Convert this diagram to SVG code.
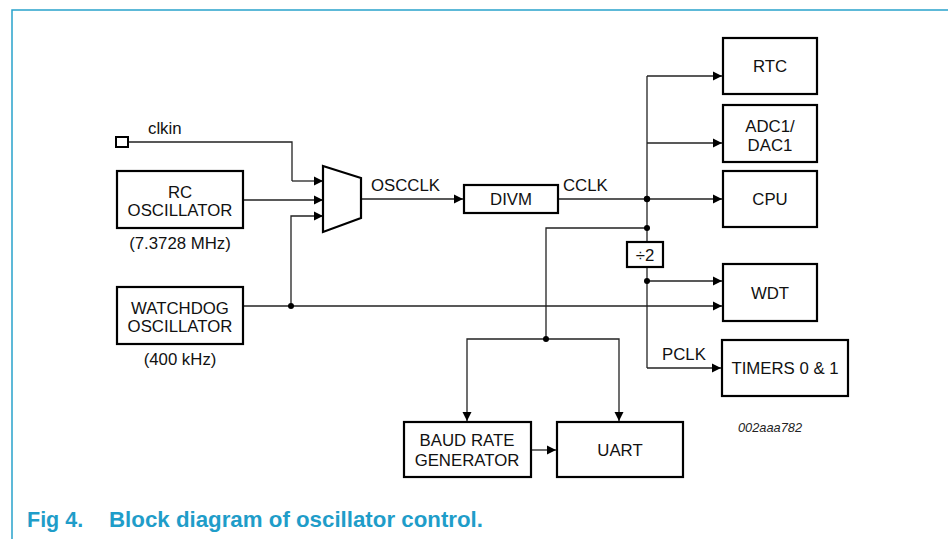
<svg xmlns="http://www.w3.org/2000/svg" width="948" height="539" viewBox="0 0 948 539">
<defs>
<marker id="ah" markerWidth="10" markerHeight="10" refX="9" refY="5" orient="auto" markerUnits="userSpaceOnUse">
<path d="M0,0.5 L9,5 L0,9.5 Z" fill="#000"/>
</marker>
<style>
.box{fill:#fff;stroke:#000;stroke-width:2.2}
.t{font-family:"Liberation Sans",Arial,sans-serif;font-size:16.8px;fill:#111;text-anchor:middle}
.l{font-family:"Liberation Sans",Arial,sans-serif;font-size:16.8px;fill:#111}
.w{fill:none;stroke:#222;stroke-width:1.3}
.a{fill:none;stroke:#222;stroke-width:1.3;marker-end:url(#ah)}
.dot{fill:#000}
.cap{font-family:"Liberation Sans",Arial,sans-serif;font-size:21.5px;font-weight:bold;fill:#1f9dc9}
</style>
</defs>
<rect width="948" height="539" fill="#fff"/>
<path d="M12,539 V10 H948" fill="none" stroke="#29a3cc" stroke-width="1.5"/>

<g id="connectors">
<path class="w" d="M128,142 H292 V181"/>
<path class="a" d="M292,181 H323"/>
<path class="a" d="M243,200 H323"/>
<path class="a" d="M291,306 V216 H323"/>
<path class="w" d="M243,306 H291"/>
<path class="a" d="M291,306 H722"/>
<path class="a" d="M361,199 H463"/>
<path class="a" d="M558,199 H722"/>
<path class="w" d="M647,76 V242"/>
<path class="a" d="M647,76 H722"/>
<path class="a" d="M647,143 H722"/>
<path class="w" d="M647,228 H546 V339"/>
<path class="w" d="M647,267 V368"/>
<path class="a" d="M647,281 H722"/>
<path class="a" d="M647,368 H721"/>
<path class="a" d="M546,339 H619 V421"/>
<path class="a" d="M546,339 H467 V421"/>
<path class="a" d="M531,450 H556"/>
<circle class="dot" cx="291" cy="306" r="3"/>
<circle class="dot" cx="647" cy="199" r="3.2"/>
<circle class="dot" cx="647" cy="228" r="3"/>
<circle class="dot" cx="647" cy="281" r="3"/>
<circle class="dot" cx="546" cy="339" r="3"/>
</g>

<g id="clkin">
<rect x="116" y="137" width="12" height="10" fill="#fff" stroke="#000" stroke-width="2"/>
<text class="l" x="148" y="134">clkin</text>
</g>

<g id="rc-osc">
<rect class="box" x="117" y="171" width="126" height="57"/>
<text class="t" x="180" y="198">RC</text>
<text class="t" x="180" y="216">OSCILLATOR</text>
<text class="t" x="180" y="249">(7.3728 MHz)</text>
</g>

<g id="wd-osc">
<rect class="box" x="117" y="287" width="126" height="57"/>
<text class="t" x="180" y="314">WATCHDOG</text>
<text class="t" x="180" y="332">OSCILLATOR</text>
<text class="t" x="180" y="365">(400 kHz)</text>
</g>

<g id="mux">
<path d="M323,166 L361,178 L361,218 L323,232 Z" fill="#fff" stroke="#000" stroke-width="2.2"/>
<text class="l" x="371" y="191">OSCCLK</text>
</g>

<g id="divm">
<rect class="box" x="464" y="185" width="94" height="28"/>
<text class="t" x="511" y="205">DIVM</text>
<text class="l" x="563" y="191">CCLK</text>
</g>

<g id="div2">
<rect class="box" x="627" y="242" width="36" height="25"/>
<text class="t" x="645" y="261">÷2</text>
</g>

<g id="rtc">
<rect class="box" x="723" y="38" width="94" height="56"/>
<text class="t" x="770" y="72">RTC</text>
</g>

<g id="adc">
<rect class="box" x="723" y="105" width="94" height="57"/>
<text class="t" x="770" y="132">ADC1/</text>
<text class="t" x="770" y="151">DAC1</text>
</g>

<g id="cpu">
<rect class="box" x="723" y="171" width="94" height="56"/>
<text class="t" x="770" y="205">CPU</text>
</g>

<g id="wdt">
<rect class="box" x="723" y="264" width="94" height="57"/>
<text class="t" x="770" y="299">WDT</text>
</g>

<g id="timers">
<rect class="box" x="722" y="340" width="126" height="56"/>
<text class="t" x="785" y="374">TIMERS 0 &amp; 1</text>
<text class="l" x="662" y="360">PCLK</text>
</g>

<g id="baud">
<rect class="box" x="404" y="422" width="127" height="55"/>
<text class="t" x="467" y="446">BAUD RATE</text>
<text class="t" x="467" y="466">GENERATOR</text>
</g>

<g id="uart">
<rect class="box" x="557" y="422" width="126" height="55"/>
<text class="t" x="620" y="456">UART</text>
</g>

<text x="738" y="432" font-family="'Liberation Sans',Arial,sans-serif" font-size="12.8" font-style="italic" fill="#222">002aaa782</text>
<text class="cap" x="27" y="527">Fig 4.</text>
<text class="cap" x="109" y="527" textLength="374" lengthAdjust="spacingAndGlyphs">Block diagram of oscillator control.</text>
</svg>
